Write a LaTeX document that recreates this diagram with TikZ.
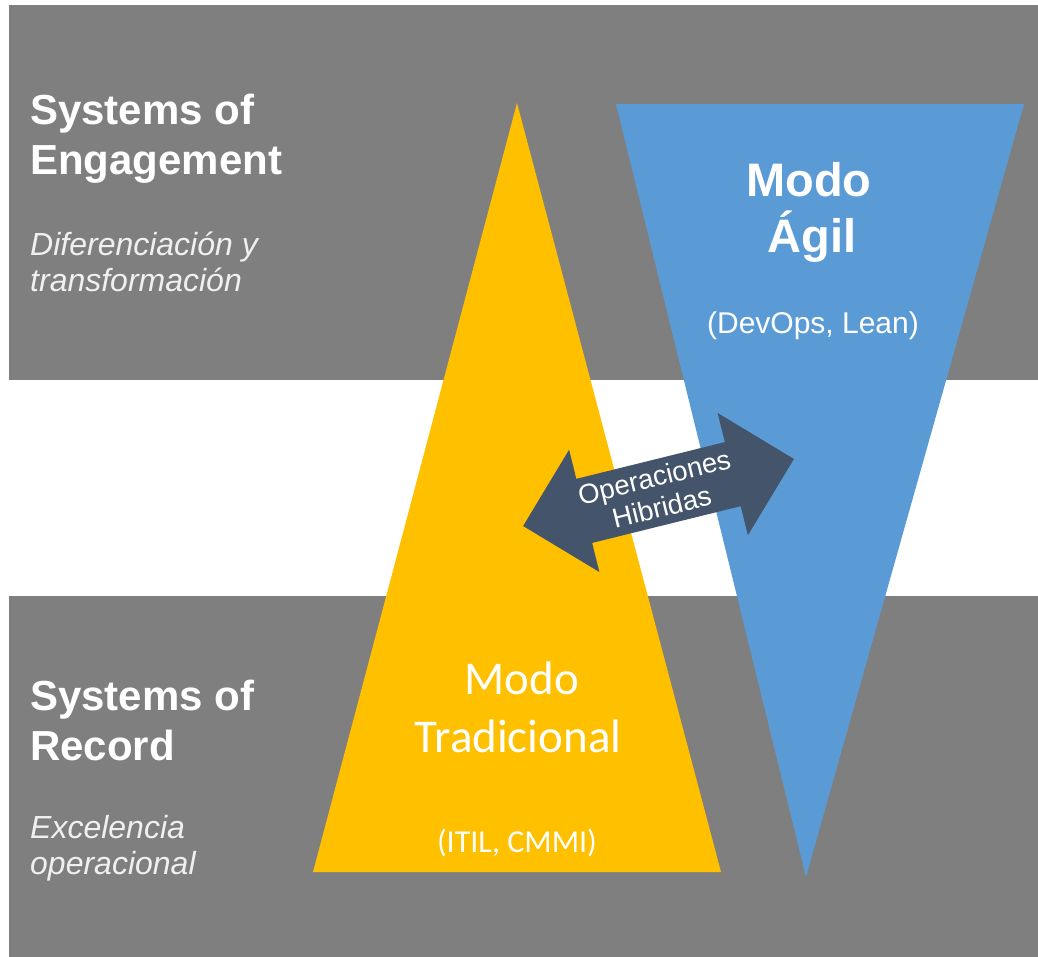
\documentclass[tikz,border=0pt]{standalone}
\usepackage{fontspec}
\setmainfont{Liberation Sans}
\newfontfamily\calib{Carlito}
\definecolor{bandgray}{HTML}{7F7F7F}
\definecolor{gold}{HTML}{FFC000}
\definecolor{skyblue}{HTML}{5B9BD5}
\definecolor{slate}{HTML}{44546A}
\definecolor{offwhite}{HTML}{F0F0F0}
\tikzset{
  head/.style={anchor=base west, inner sep=0pt, text=white, font=\bfseries\fontsize{42}{50}\selectfont},
  sub/.style={anchor=base west, inner sep=0pt, text=offwhite, font=\itshape\fontsize{32}{38}\selectfont},
  agil/.style={anchor=base, inner sep=0pt, text=white, font=\bfseries\fontsize{47}{56}\selectfont},
  agilsub/.style={anchor=base, inner sep=0pt, text=white, font=\fontsize{30}{36}\selectfont},
  trad/.style={anchor=base, inner sep=0pt, text=white, font=\calib\fontsize{47}{56}\selectfont},
  tradsub/.style={anchor=base, inner sep=0pt, text=white, font=\calib\fontsize{32}{38}\selectfont},
}
\begin{document}
\begin{tikzpicture}[x=1pt,y=-1pt]
\useasboundingbox (0,0) rectangle (1038,957);
\fill[white] (0,0) rectangle (1038,957);
% bands
\fill[bandgray] (9,5) rectangle (1038,380);
\fill[bandgray] (9,596) rectangle (1038,957);
% triangles
\fill[gold] (517,103) -- (721,872) -- (313,872) -- cycle;
\fill[skyblue] (616,104) -- (1024,104) -- (806,877) -- cycle;
% double arrow
\begin{scope}[shift={(658.5,492.5)}, rotate=13.9]
\fill[slate] (-139.5,0) -- (-76.5,-63) -- (-76.5,-33) -- (76.5,-33) -- (76.5,-63)
  -- (139.5,0) -- (76.5,63) -- (76.5,33) -- (-76.5,33) -- (-76.5,63) -- cycle;
\end{scope}
\node (hib) at (658,492) [rotate=13.9, align=center, text=white, inner sep=0pt,
  font=\fontsize{27.5}{31}\selectfont] {Operaciones\\Hibridas};
% left texts
\node (se1) at (30,125) [head] {Systems of};
\node (se2) at (30,175) [head] {Engagement};
\node (sd1) at (30,256) [sub] {Diferenciación y};
\node (sd2) at (30,292) [sub] {transformación};
\node (sr1) at (30,710) [head] {Systems of};
\node (sr2) at (30,760) [head] {Record};
\node (sx1) at (30,838) [sub] {Excelencia};
\node (sx2) at (30,874) [sub] {operacional};
% agile texts
\node (ag1) at (809,197) [agil] {Modo};
\node (ag2) at (812,253) [agil] {Ágil};
\node (ag3) at (813,334) [agilsub] {(DevOps, Lean)};
% traditional texts
\node (tr1) at (522,694) [trad] {Modo};
\node (tr2) at (518,752) [trad] {Tradicional};
\node (tr3) at (517,852) [tradsub] {(ITIL, CMMI)};
\end{tikzpicture}
\end{document}
